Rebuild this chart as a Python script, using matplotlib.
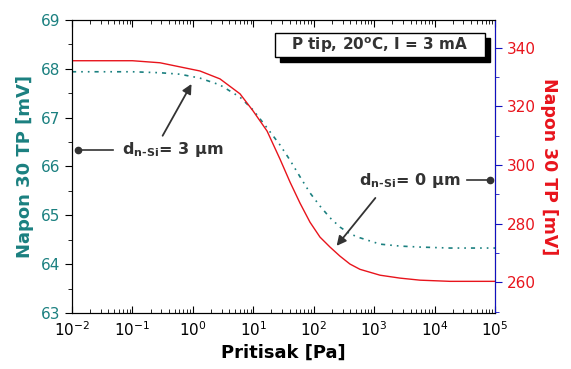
import numpy as np
import matplotlib
matplotlib.use("Agg")
import matplotlib.pyplot as plt
from matplotlib.patches import Rectangle
from matplotlib.ticker import MultipleLocator, LogLocator

# pressure (Pa)
pressure = [0.01, 0.1, 0.286, 0.612, 1.31, 2.81, 6.03, 9.89, 16.9, 27.7, 40.5, 59.3, 86.7,
            127, 186, 272, 398, 583, 1250, 2680, 5740, 18000, 1e5]
# teal dash-dot curve, left axis (mV), d_n-Si = 3 um
u_3um = [67.94, 67.94, 67.92, 67.89, 67.81, 67.67, 67.42, 67.16, 66.79, 66.44, 66.13, 65.79, 65.46,
         65.19, 64.95, 64.76, 64.62, 64.54, 64.41, 64.37, 64.35, 64.33, 64.33]
# red solid curve, right axis (mV), d_n-Si = 0 um
u_0um = [335.6, 335.6, 334.9, 333.5, 332.1, 329.4, 324.3, 318.5, 311.6, 302.0, 294.2, 287.0, 280.5,
         275.4, 272.0, 268.9, 266.2, 264.4, 262.4, 261.4, 260.7, 260.3, 260.3]

teal = '#1b8080'
red = '#e8141c'
blue = '#1010c0'
gray = '#333333'

plt.rcParams['font.family'] = ['DejaVu Sans']
plt.rcParams['mathtext.fontset'] = 'dejavusans'

fig = plt.figure(figsize=(5.71, 3.69), dpi=100)
ax = fig.add_axes([0.1261, 0.1518, 0.7408, 0.794])
ax2 = ax.twinx()

ax.plot(pressure, u_3um, color=teal, lw=1.2, dashes=(2.5, 3, 1, 3, 1, 3))
ax2.plot(pressure, u_0um, color=red, lw=1.0)

ax.set_xscale('log')
ax.set_xlim(1e-2, 1e5)
ax.set_ylim(63, 69)
ax2.set_ylim(249.5, 349.5)

ax.xaxis.set_major_locator(LogLocator(base=10, numticks=20))
ax.xaxis.set_minor_locator(LogLocator(base=10, subs=np.arange(2, 10), numticks=20))
ax.yaxis.set_major_locator(MultipleLocator(1))
ax.yaxis.set_minor_locator(MultipleLocator(0.5))
ax2.yaxis.set_major_locator(MultipleLocator(20))
ax2.yaxis.set_minor_locator(MultipleLocator(10))

ax.tick_params(axis='x', which='both', direction='in', top=True, labelsize=11, pad=5)
ax.tick_params(axis='x', which='major', length=5)
ax.tick_params(axis='x', which='minor', length=3)
ax.tick_params(axis='y', which='major', direction='out', length=5, labelsize=11, labelcolor=teal)
ax.tick_params(axis='y', which='minor', direction='out', length=3)
ax2.tick_params(axis='y', which='major', direction='out', length=5, labelsize=11, labelcolor=red, color=blue)
ax2.tick_params(axis='y', which='minor', direction='out', length=3, color=blue)
ax2.spines['right'].set_color(blue)

ax.set_xlabel('Pritisak [Pa]', fontsize=13, fontweight='bold', labelpad=4)
ax.set_ylabel('Napon 30 TP [mV]', fontsize=13, fontweight='bold', color=teal, labelpad=5)
ax2.set_ylabel('Napon 30 TP [mV]', fontsize=12.5, fontweight='bold', color=red, rotation=270, labelpad=16)

# info box with shadow
ax.add_patch(Rectangle((0.492, 0.857), 0.496, 0.082, transform=ax.transAxes, facecolor='black',
                       edgecolor='black', zorder=5, clip_on=False))
ax.add_patch(Rectangle((0.48, 0.874), 0.496, 0.082, transform=ax.transAxes, facecolor='white',
                       edgecolor='black', lw=1.0, zorder=6, clip_on=False))
ax.text(0.728, 0.913, r'P tip, 20$^{\mathbf{o}}$C, I = 3 mA', transform=ax.transAxes, ha='center',
        va='center', fontsize=11, fontweight='bold', color=gray, zorder=7)

lbl3 = r'$\mathbf{d}_{\mathbf{n‐Si}}$= 3 μm'
lbl0 = r'$\mathbf{d}_{\mathbf{n‐Si}}$= 0 μm'

# left annotation
ax.text(0.068, 66.34, lbl3, fontsize=11.5, fontweight='bold', color=gray, va='center', ha='left')
ax.plot([0.0126, 0.048], [66.34, 66.34], color=gray, lw=1.2)
ax.plot([0.0128], [66.34], marker='o', ms=4.5, color=gray)
ax.annotate('', xy=(1.0, 67.74), xytext=(0.30, 66.58),
            arrowprops=dict(arrowstyle='-|>', color=gray, lw=1.3, mutation_scale=14))

# right annotation
ax.text(560, 65.72, lbl0, fontsize=11.5, fontweight='bold', color=gray, va='center', ha='left')
ax.plot([34600, 83000], [65.72, 65.72], color=gray, lw=1.2)
ax.plot([83000], [65.72], marker='o', ms=4.5, color=gray)
ax.annotate('', xy=(224, 64.33), xytext=(1120, 65.40),
            arrowprops=dict(arrowstyle='-|>', color=gray, lw=1.3, mutation_scale=14))

fig.savefig('out.png', dpi=100)
